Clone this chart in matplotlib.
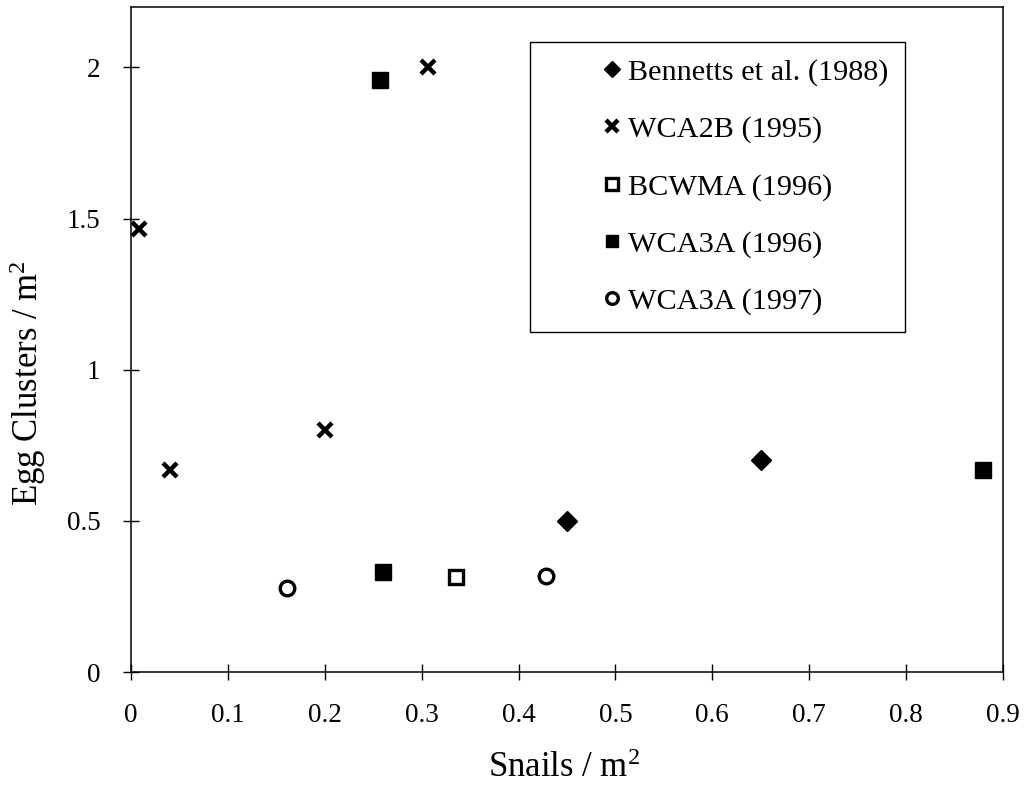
import matplotlib.pyplot as plt
import numpy as np
from matplotlib.ticker import FuncFormatter

plt.rcParams['font.family'] = ['Liberation Serif', 'DejaVu Serif']
plt.rcParams['mathtext.fontset'] = 'custom'
plt.rcParams['mathtext.rm'] = 'Liberation Serif'
plt.rcParams['mathtext.default'] = 'rm'

# values
bennetts_x = [0.45, 0.65]
bennetts_y = [0.50, 0.70]
wca2b_x = [0.008, 0.04, 0.20, 0.307]
wca2b_y = [1.467, 0.667, 0.80, 2.00]
bcwma_x = [0.335]
bcwma_y = [0.315]
wca3a96_x = [0.257, 0.26, 0.879]
wca3a96_y = [1.96, 0.331, 0.669]
wca3a97_x = [0.161, 0.428]
wca3a97_y = [0.278, 0.318]

x_ticks = [0, 0.1, 0.2, 0.3, 0.4, 0.5, 0.6, 0.7, 0.8, 0.9]
y_ticks = [0, 0.5, 1, 1.5, 2]

fig = plt.figure(figsize=(10.27, 7.9), dpi=100)
ax = fig.add_axes([131 / 1027, 118 / 790, 872 / 1027, 665 / 790])

ax.plot(bennetts_x, bennetts_y, 'D', color='black', markersize=10,
        linestyle='none', label='Bennetts et al. (1988)')
ax.plot(wca2b_x, wca2b_y, 'x', color='black', markersize=10, markeredgewidth=3.2,
        linestyle='none', label='WCA2B (1995)')
ax.plot(bcwma_x, bcwma_y, 's', markerfacecolor='white', markeredgecolor='black',
        markersize=10, markeredgewidth=2.4, linestyle='none', label='BCWMA (1996)')
ax.plot(wca3a96_x, wca3a96_y, 's', color='black', markersize=11.5,
        linestyle='none', label='WCA3A (1996)')
ax.plot(wca3a97_x, wca3a97_y, 'o', markerfacecolor='white', markeredgecolor='black',
        markersize=10.5, markeredgewidth=2.4, linestyle='none', label='WCA3A (1997)')

ax.set_xlim(0, 0.9)
ax.set_ylim(0, 2.2)
ax.set_xticks(x_ticks)
ax.set_yticks(y_ticks)
fmt = FuncFormatter(lambda v, p: '%g' % v)
ax.xaxis.set_major_formatter(fmt)
ax.yaxis.set_major_formatter(fmt)
ax.tick_params(direction='inout', length=12, width=1, labelsize=19.5, pad=16,
               colors='black')

for sp in ax.spines.values():
    sp.set_linewidth(1.1)
    sp.set_color('black')

ax.set_xlabel('Snails / m$^2$', fontsize=25)
ax.set_ylabel('Egg Clusters / m$^2$', fontsize=25)
ax.xaxis.set_label_coords(0.497, -0.12)
ax.yaxis.set_label_coords(-0.095, 0.435)

leg = ax.legend(loc='upper left', bbox_to_anchor=((530 - 131) / 872, (672 - 42) / 665),
                borderaxespad=0, fontsize=21.8, frameon=True, fancybox=False,
                edgecolor='black', framealpha=1, handlelength=4.3,
                handletextpad=-1.6, labelspacing=0.98, borderpad=0.55,
                markerscale=0.8)
leg.get_frame().set_linewidth(1.0)

fig.savefig('out.png', dpi=100)
